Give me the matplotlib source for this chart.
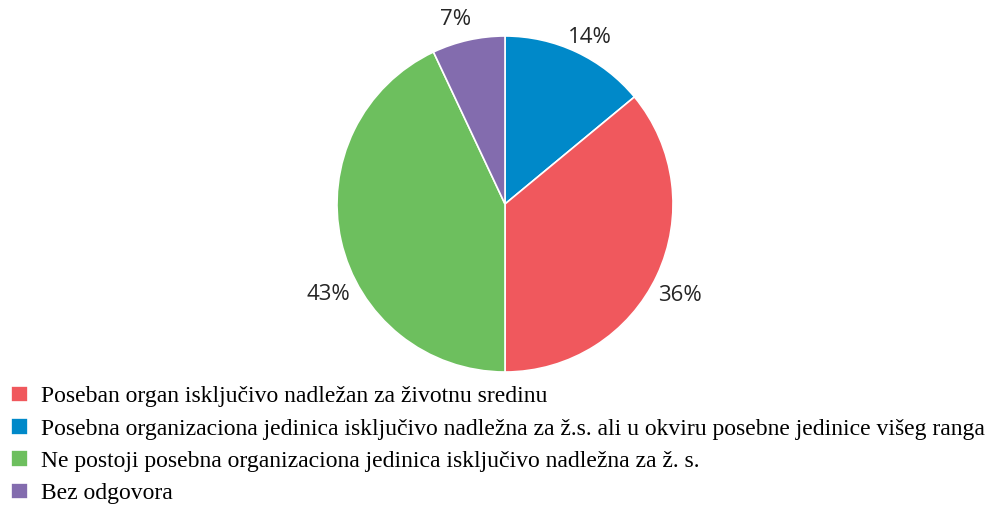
import numpy as np
import matplotlib.pyplot as plt

# data (order as in legend)
labels = ["Poseban organ isključivo nadležan za životnu sredinu",
          "Posebna organizaciona jedinica isključivo nadležna za ž.s. ali u okviru posebne jedinice višeg ranga",
          "Ne postoji posebna organizaciona jedinica isključivo nadležna za ž. s.",
          "Bez odgovora"]
shares = [36, 14, 43, 7]
colors = ["#F0585D", "#0089C9", "#6DBF5E", "#836CAE"]

# pie draws clockwise from top: blue, red, green, purple
pie_order = [1, 0, 2, 3]

fig = plt.figure(figsize=(9.98, 5.05), dpi=100)
ax = fig.add_axes([337/998, 133/505, 336/998, 336/505])

wedges, _ = ax.pie([shares[i] for i in pie_order],
                   colors=[colors[i] for i in pie_order],
                   startangle=90, counterclock=False, radius=1,
                   wedgeprops=dict(edgecolor="white", linewidth=1.2))
ax.set_xlim(-1, 1)
ax.set_ylim(-1, 1)
ax.set_aspect("equal")

# percentage labels outside the slices
label_r = [1.115, 1.175, 1.185, 1.14]
label_shift = [-1.8, -2.3, 14.6, 2.5]   # degrees, nudges like the original
for w, i, r, s in zip(wedges, pie_order, label_r, label_shift):
    ang = np.deg2rad((w.theta1 + w.theta2) / 2 + s)
    ax.text(r * np.cos(ang), r * np.sin(ang), f"{shares[i]}%",
            ha="center", va="center", fontsize=16, color="#262626",
            family="Open Sans", clip_on=False)

handles = [wedges[pie_order.index(i)] for i in range(len(labels))]
fig.legend(handles, labels, loc="upper left", bbox_to_anchor=(0.009, 0.241),
           frameon=False, prop={"family": "Liberation Serif", "size": 17},
           handlelength=0.72, handleheight=0.72, handletextpad=0.55,
           labelspacing=0.45, borderaxespad=0, borderpad=0.1)

fig.savefig("out.png", dpi=100)
